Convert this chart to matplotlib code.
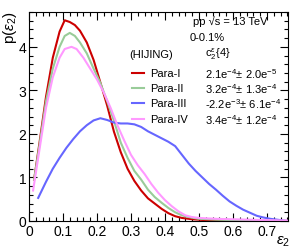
import matplotlib
matplotlib.use("Agg")
import matplotlib.pyplot as plt
from matplotlib.ticker import MultipleLocator
from matplotlib.lines import Line2D

plt.rcParams['font.family'] = ['Liberation Sans', 'DejaVu Sans']
plt.rcParams['mathtext.fontset'] = 'custom'
plt.rcParams['mathtext.rm'] = 'Liberation Sans'
plt.rcParams['mathtext.it'] = 'Liberation Sans:italic'
plt.rcParams['mathtext.bf'] = 'Liberation Sans:bold'

# ---- data ----
red_x = [0.015, 0.03, 0.05, 0.07, 0.09, 0.105, 0.12, 0.135, 0.15, 0.17, 0.19, 0.21, 0.23, 0.25,
         0.27, 0.29, 0.31, 0.33, 0.35, 0.37, 0.39, 0.41, 0.43, 0.45, 0.48, 0.52, 0.6, 0.7, 0.76]
red_y = [0.95, 1.75, 2.85, 3.75, 4.35, 4.61, 4.57, 4.5, 4.37, 4.1, 3.7, 3.18, 2.65, 2.05,
         1.58, 1.2, 0.92, 0.7, 0.52, 0.4, 0.28, 0.18, 0.11, 0.07, 0.04, 0.02, 0.01, 0.005, 0.0]

green_x = [0.015, 0.03, 0.05, 0.07, 0.09, 0.105, 0.12, 0.135, 0.15, 0.17, 0.19, 0.21, 0.23, 0.25,
           0.27, 0.29, 0.31, 0.33, 0.35, 0.37, 0.39, 0.41, 0.43, 0.45, 0.47, 0.5, 0.55, 0.6, 0.7, 0.76]
green_y = [0.95, 1.7, 2.75, 3.5, 4.0, 4.25, 4.32, 4.25, 4.1, 3.85, 3.5, 3.17, 2.75, 2.3,
           1.8, 1.45, 1.15, 0.95, 0.72, 0.55, 0.42, 0.3, 0.2, 0.13, 0.09, 0.05, 0.03, 0.02, 0.01, 0.0]

blue_x = [0.027, 0.05, 0.07, 0.09, 0.11, 0.13, 0.15, 0.17, 0.19, 0.21, 0.23, 0.25, 0.27, 0.29,
          0.31, 0.33, 0.35, 0.37, 0.39, 0.41, 0.43, 0.45, 0.47, 0.49, 0.51, 0.53, 0.55, 0.57,
          0.59, 0.61, 0.63, 0.65, 0.67, 0.69, 0.71, 0.73, 0.76]
blue_y = [0.53, 0.9, 1.2, 1.45, 1.68, 1.88, 2.06, 2.2, 2.31, 2.36, 2.32, 2.26, 2.24, 2.24,
          2.22, 2.16, 2.06, 1.98, 1.9, 1.82, 1.72, 1.52, 1.32, 1.15, 1.0, 0.85, 0.72, 0.58,
          0.45, 0.35, 0.26, 0.19, 0.12, 0.08, 0.05, 0.03, 0.0]

pink_x = [0.012, 0.03, 0.05, 0.07, 0.09, 0.105, 0.125, 0.14, 0.16, 0.18, 0.2, 0.22, 0.24, 0.26,
          0.28, 0.3, 0.32, 0.34, 0.36, 0.38, 0.4, 0.42, 0.44, 0.46, 0.48, 0.5, 0.55, 0.6, 0.65,
          0.7, 0.76]
pink_y = [0.7, 1.6, 2.6, 3.3, 3.75, 3.95, 4.0, 3.95, 3.75, 3.5, 3.25, 2.95, 2.6, 2.2,
          1.85, 1.52, 1.28, 1.08, 0.85, 0.65, 0.48, 0.34, 0.22, 0.13, 0.09, 0.07, 0.05, 0.04, 0.03,
          0.02, 0.01]

series_names = ["Para-I", "Para-II", "Para-III", "Para-IV"]
series_vals = [r"2.1e$^{-4}$$\pm$ 2.0e$^{-5}$", r"3.2e$^{-4}$$\pm$ 1.3e$^{-4}$",
               r"-2.2e$^{-3}$$\pm$ 6.1e$^{-4}$", r"3.4e$^{-4}$$\pm$ 1.2e$^{-4}$"]
colors = ["#cc0000", "#99cc99", "#6666ff", "#ff99ff"]

fig = plt.figure(figsize=(2.91, 2.51), dpi=100)
ax = fig.add_axes([29/291, 29/251, 259/291, 209/251])

for xs, ys, c in zip([red_x, green_x, blue_x, pink_x], [red_y, green_y, blue_y, pink_y], colors):
    ax.plot(xs, ys, color=c, lw=1.5, solid_joinstyle='round')

ax.set_xlim(0, 0.762)
ax.set_ylim(0, 4.8)
ax.xaxis.set_minor_locator(MultipleLocator(0.02))
ax.yaxis.set_minor_locator(MultipleLocator(0.2))
ax.set_xticks([0, 0.1, 0.2, 0.3, 0.4, 0.5, 0.6, 0.7])
ax.set_xticklabels(["0", "0.1", "0.2", "0.3", "0.4", "0.5", "0.6", "0.7"])
ax.set_yticks([0, 1, 2, 3, 4])
ax.set_yticklabels(["0", "1", "2", "3", "4"])
ax.tick_params(which='both', direction='in', top=True, right=True, width=0.8, labelsize=10)
ax.tick_params(which='major', length=6, pad=2)
ax.tick_params(which='minor', length=3)
for s in ax.spines.values():
    s.set_linewidth(0.8)

fig.text(10/291, 1 - 28/251, r"p($\epsilon_2$)", rotation=90, fontsize=11, ha='center', va='center')
fig.text(283/291, 1 - 242/251, r"$\epsilon_2$", fontsize=11, ha='center', va='center')

def ax_frac(px, py):
    return ((px - 29) / 259, (222 - py) / 209)

ax.text(*ax_frac(230, 22), "pp \u221As = 13 TeV", fontsize=8, ha='center', va='center', transform=ax.transAxes)
ax.text(*ax_frac(207, 38), "0-0.1%", fontsize=8, ha='center', va='center', transform=ax.transAxes)
ax.text(*ax_frac(129, 55), "(HIJING)", fontsize=8, ha='left', va='center', transform=ax.transAxes)
ax.text(*ax_frac(205, 54), r"c$_2^{\epsilon}${4}", fontsize=8, ha='left', va='center', transform=ax.transAxes)

legend_y = [74, 89, 104, 120]
for name, val, c, py in zip(series_names, series_vals, colors, legend_y):
    x0, y0 = ax_frac(132, py)
    x1, _ = ax_frac(144, py)
    ax.add_line(Line2D([x0, x1], [y0, y0], color=c, lw=1.5, transform=ax.transAxes))
    ax.text(*ax_frac(150, py), name, fontsize=8, ha='left', va='center', transform=ax.transAxes)
    ax.text(*ax_frac(205, py), val, fontsize=8, ha='left', va='center', transform=ax.transAxes)

fig.savefig("out.png", dpi=100)
